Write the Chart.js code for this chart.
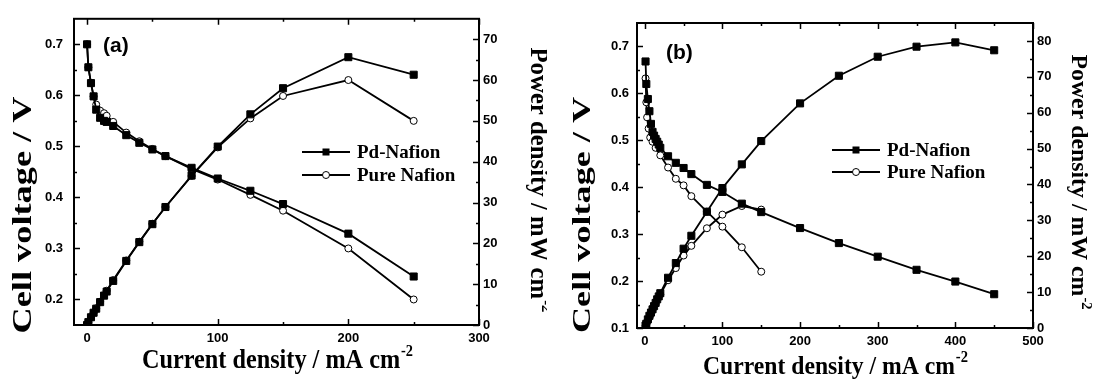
<!DOCTYPE html>
<html>
<head>
<meta charset="utf-8">
<script src="https://cdn.jsdelivr.net/npm/chart.js@4.4.1/dist/chart.umd.min.js"></script>
<style>
    html, body { margin: 0; padding: 0; background: #fff; }
    #quadro { position: relative; width: 1095px; height: 382px; }
    .painel { position: absolute; top: 0; }
    #painel-a { left: 0; }
    #painel-b { left: 547px; }
</style>
</head>
<body>
<div id="quadro">
    <div class="painel" id="painel-a"><canvas id="grafico-a" width="547" height="382"></canvas></div>
    <div class="painel" id="painel-b"><canvas id="grafico-b" width="548" height="382"></canvas></div>
</div>
<script>
// ==================== DADOS (a) ====================
const correnteA_Pd = [0, 1, 3, 5, 7, 10, 13, 15, 20, 30, 40, 50, 60, 80, 100, 125, 150, 200, 250];
const tensaoA_Pd = [0.700, 0.655, 0.624, 0.598, 0.572, 0.556, 0.550, 0.548, 0.540, 0.522, 0.507, 0.494, 0.481, 0.458, 0.437, 0.413, 0.387, 0.329, 0.245];
const potenciaA_Pd = [0.0, 0.7, 1.9, 3.0, 4.0, 5.6, 7.2, 8.2, 10.8, 15.7, 20.3, 24.7, 28.9, 36.6, 43.7, 51.6, 58.0, 65.6, 61.3];

const correnteA_Pura = [0, 1, 3, 5, 7, 10, 13, 15, 20, 30, 40, 50, 60, 80, 100, 125, 150, 200, 250];
const tensaoA_Pura = [0.700, 0.655, 0.624, 0.598, 0.582, 0.570, 0.565, 0.560, 0.548, 0.527, 0.510, 0.495, 0.481, 0.456, 0.435, 0.405, 0.374, 0.300, 0.200];
const potenciaA_Pura = [0.0, 0.7, 1.9, 3.0, 4.1, 5.7, 7.3, 8.4, 11.0, 15.8, 20.4, 24.8, 28.9, 36.5, 43.5, 50.6, 56.1, 60.0, 50.0];

// ==================== DADOS (b) ====================
const correnteB_Pd = [1, 2, 4, 6, 8, 10, 12, 14, 16, 18, 20, 30, 40, 50, 60, 80, 100, 125, 150, 200, 250, 300, 350, 400, 450];
const tensaoB_Pd = [0.668, 0.620, 0.588, 0.562, 0.535, 0.518, 0.510, 0.503, 0.497, 0.491, 0.484, 0.466, 0.452, 0.441, 0.428, 0.405, 0.390, 0.365, 0.347, 0.313, 0.281, 0.252, 0.224, 0.199, 0.172];
const potenciaB_Pd = [0.7, 1.2, 2.4, 3.4, 4.3, 5.2, 6.1, 7.0, 8.0, 8.8, 9.7, 14.0, 18.1, 22.1, 25.7, 32.4, 39.0, 45.6, 52.1, 62.6, 70.3, 75.6, 78.4, 79.6, 77.4];

const correnteB_Pura = [1, 2, 3, 5, 7, 10, 14, 20, 30, 40, 50, 60, 80, 100, 125, 150];
const tensaoB_Pura = [0.632, 0.581, 0.549, 0.525, 0.506, 0.497, 0.484, 0.468, 0.442, 0.418, 0.404, 0.381, 0.348, 0.316, 0.272, 0.220];
const potenciaB_Pura = [0.6, 1.2, 1.6, 2.6, 3.5, 5.0, 6.8, 9.4, 13.3, 16.7, 20.2, 22.9, 27.8, 31.6, 34.0, 33.0];

// ==================== EIXOS ====================
const ticksX_A = [0, 100, 200, 300];
const menoresX_A = [50, 150, 250];
const ticksV_A = [0.2, 0.3, 0.4, 0.5, 0.6, 0.7];
const menoresV_A = [0.25, 0.35, 0.45, 0.55, 0.65];
const ticksP_A = [0, 10, 20, 30, 40, 50, 60, 70];
const menoresP_A = [5, 15, 25, 35, 45, 55, 65];

const ticksX_B = [0, 100, 200, 300, 400, 500];
const menoresX_B = [50, 150, 250, 350, 450];
const ticksV_B = [0.1, 0.2, 0.3, 0.4, 0.5, 0.6, 0.7];
const menoresV_B = [0.15, 0.25, 0.35, 0.45, 0.55, 0.65];
const ticksP_B = [0, 10, 20, 30, 40, 50, 60, 70, 80];
const menoresP_B = [5, 15, 25, 35, 45, 55, 65, 75];

const rotulosLegenda = ['Pd-Nafion', 'Pure Nafion'];

// ==================== AUXILIARES ====================
function pontos(xs, ys) {
    return xs.map((x, i) => ({ x: x, y: ys[i] }));
}

function fonteSerif(tam) {
    return 'bold ' + tam + 'px "Liberation Serif", "Times New Roman", serif';
}

function escreverTexto(ctx, t) {
    ctx.save();
    ctx.font = fonteSerif(t.tamanho);
    const w1 = ctx.measureText(t.texto).width;
    const supTam = Math.round(t.tamanho * 0.6);
    let w2 = 0;
    if (t.sup) {
        ctx.font = fonteSerif(supTam);
        w2 = ctx.measureText(t.sup).width + 1;
    }
    const total = w1 + w2;
    const esc = t.comprimento ? t.comprimento / total : 1;
    ctx.translate(t.x, t.y);
    ctx.rotate(t.rot || 0);
    ctx.scale(esc, 1);
    ctx.fillStyle = '#000';
    ctx.textAlign = 'left';
    ctx.textBaseline = 'alphabetic';
    ctx.font = fonteSerif(t.tamanho);
    ctx.fillText(t.texto, -total / 2, 0);
    if (t.sup) {
        ctx.font = fonteSerif(supTam);
        ctx.fillText(t.sup, -total / 2 + w1 + 1, -t.tamanho * 0.45);
    }
    ctx.restore();
}

function desenharMarcador(ctx, tipo, x, y) {
    ctx.beginPath();
    if (tipo === 'quadrado') {
        ctx.fillStyle = '#000';
        ctx.fillRect(x - 3.5, y - 3.5, 7, 7);
    } else {
        ctx.arc(x, y, 3.5, 0, Math.PI * 2);
        ctx.fillStyle = '#fff';
        ctx.fill();
        ctx.lineWidth = 1;
        ctx.strokeStyle = '#000';
        ctx.stroke();
    }
}

// moldura, tracos internos, titulos e legenda
const decoracao = {
    id: 'decoracao',
    afterDraw(chart, args, o) {
        const { ctx, chartArea: a, scales } = chart;
        ctx.save();
        ctx.strokeStyle = '#000';
        ctx.lineWidth = 1.5;

        const tracoV = (escala, valores, comp) => {
            valores.forEach(v => {
                const px = Math.round(escala.getPixelForValue(v)) + 0.5;
                ctx.beginPath();
                ctx.moveTo(px, a.bottom); ctx.lineTo(px, a.bottom - comp);
                ctx.moveTo(px, a.top); ctx.lineTo(px, a.top + comp);
                ctx.stroke();
            });
        };
        const tracoH = (escala, valores, comp, lado) => {
            valores.forEach(v => {
                const py = Math.round(escala.getPixelForValue(v)) + 0.5;
                ctx.beginPath();
                if (lado === 'esq') { ctx.moveTo(a.left, py); ctx.lineTo(a.left + comp, py); }
                else { ctx.moveTo(a.right, py); ctx.lineTo(a.right - comp, py); }
                ctx.stroke();
            });
        };

        tracoV(scales.x, scales.x.ticks.map(t => t.value), 6);
        tracoV(scales.x, o.menoresX, 3);
        tracoH(scales.y, scales.y.ticks.map(t => t.value), 6, 'esq');
        tracoH(scales.y, o.menoresV, 3, 'esq');
        tracoH(scales.y1, scales.y1.ticks.map(t => t.value), 6, 'dir');
        tracoH(scales.y1, o.menoresP, 3, 'dir');

        ctx.lineWidth = 2;
        ctx.strokeRect(a.left, a.top, a.right - a.left, a.bottom - a.top);

        // rotulo do painel
        ctx.fillStyle = '#000';
        ctx.font = 'bold 21px "Liberation Sans", Arial, sans-serif';
        ctx.textAlign = 'left';
        ctx.textBaseline = 'alphabetic';
        ctx.fillText(o.painel.texto, o.painel.x, o.painel.y);

        // titulos dos eixos
        o.titulos.forEach(t => escreverTexto(ctx, t));

        // legenda
        const lg = o.legenda;
        ['quadrado', 'circulo'].forEach((tipo, i) => {
            const y = lg.y + i * lg.passo;
            ctx.beginPath();
            ctx.strokeStyle = '#000';
            ctx.lineWidth = 1.8;
            ctx.moveTo(lg.x, y); ctx.lineTo(lg.x + lg.largura, y);
            ctx.stroke();
            desenharMarcador(ctx, tipo, lg.x + lg.largura / 2, y);
            ctx.fillStyle = '#000';
            ctx.font = fonteSerif(19);
            ctx.textBaseline = 'middle';
            ctx.textAlign = 'left';
            ctx.fillText(rotulosLegenda[i], lg.x + lg.largura + 7, y + 1);
        });
        ctx.restore();
    }
};

function serie(dados, eixo, tipo) {
    const quadrado = tipo === 'quadrado';
    return {
        data: dados,
        yAxisID: eixo,
        borderColor: '#000',
        borderWidth: 1.8,
        pointStyle: quadrado ? 'rect' : 'circle',
        pointRadius: quadrado ? 5 : 3.5,
        pointHoverRadius: quadrado ? 5 : 3.5,
        pointBackgroundColor: quadrado ? '#000' : '#fff',
        pointBorderColor: '#000',
        pointBorderWidth: 1,
        tension: 0,
        fill: false
    };
}

function montarGrafico(id, c) {
    const fonteTick = { family: '"Liberation Sans", Arial, sans-serif', weight: 'bold', size: c.tamTick };
    return new Chart(document.getElementById(id), {
        type: 'line',
        data: {
            datasets: [
                serie(pontos(c.correntePd, c.tensaoPd), 'y', 'quadrado'),
                serie(pontos(c.correntePd, c.potenciaPd), 'y1', 'quadrado'),
                serie(pontos(c.correntePura, c.tensaoPura), 'y', 'circulo'),
                serie(pontos(c.correntePura, c.potenciaPura), 'y1', 'circulo')
            ]
        },
        options: {
            responsive: false,
            animation: false,
            events: [],
            layout: { padding: { top: c.topo, left: 0, right: 0, bottom: 0 } },
            plugins: {
                legend: { display: false },
                tooltip: { enabled: false },
                decoracao: c.decoracao
            },
            scales: {
                x: {
                    type: 'linear',
                    position: 'bottom',
                    min: c.xMin, max: c.xMax,
                    grid: { display: false, drawTicks: false },
                    border: { display: false },
                    afterBuildTicks: s => { s.ticks = c.ticksX.map(v => ({ value: v })); },
                    afterFit: s => { s.height = c.alturaX; },
                    ticks: { color: '#000', font: fonteTick, padding: 6, maxRotation: 0 }
                },
                y: {
                    type: 'linear',
                    position: 'left',
                    min: c.vMin, max: c.vMax,
                    grid: { display: false, drawTicks: false },
                    border: { display: false },
                    afterBuildTicks: s => { s.ticks = c.ticksV.map(v => ({ value: v })); },
                    afterFit: s => { s.width = c.larguraEsq; },
                    ticks: { color: '#000', font: fonteTick, padding: c.padEsq, callback: v => v.toFixed(1) }
                },
                y1: {
                    type: 'linear',
                    position: 'right',
                    min: 0, max: c.pMax,
                    grid: { display: false, drawTicks: false },
                    border: { display: false },
                    afterBuildTicks: s => { s.ticks = c.ticksP.map(v => ({ value: v })); },
                    afterFit: s => { s.width = c.larguraDir; },
                    ticks: { color: '#000', font: fonteTick, padding: 4 }
                }
            }
        },
        plugins: [decoracao]
    });
}

Chart.register(decoracao);

montarGrafico('grafico-a', {
    correntePd: correnteA_Pd, tensaoPd: tensaoA_Pd, potenciaPd: potenciaA_Pd,
    correntePura: correnteA_Pura, tensaoPura: tensaoA_Pura, potenciaPura: potenciaA_Pura,
    xMin: -10, xMax: 300, vMin: 0.15, vMax: 0.75, pMax: 75,
    ticksX: ticksX_A, ticksV: ticksV_A, ticksP: ticksP_A,
    topo: 15, alturaX: 57, larguraEsq: 74, larguraDir: 68, padEsq: 11, tamTick: 13,
    decoracao: {
        menoresX: menoresX_A, menoresV: menoresV_A, menoresP: menoresP_A,
        painel: { texto: '(a)', x: 103, y: 52 },
        titulos: [
            { texto: 'Current density / mA cm', sup: '-2', x: 277.5, y: 368, tamanho: 27, comprimento: 271 },
            { texto: 'Cell voltage / V', x: 31, y: 215, rot: -Math.PI / 2, tamanho: 27, comprimento: 237 },
            { texto: 'Power density / mW cm', sup: '-2', x: 531, y: 180, rot: Math.PI / 2, tamanho: 25, comprimento: 265 }
        ],
        legenda: { x: 302, y: 152, passo: 23, largura: 48 }
    }
});

montarGrafico('grafico-b', {
    correntePd: correnteB_Pd, tensaoPd: tensaoB_Pd, potenciaPd: potenciaB_Pd,
    correntePura: correnteB_Pura, tensaoPura: tensaoB_Pura, potenciaPura: potenciaB_Pura,
    xMin: -10, xMax: 500, vMin: 0.1, vMax: 0.75, pMax: 85,
    ticksX: ticksX_B, ticksV: ticksV_B, ticksP: ticksP_B,
    topo: 23, alturaX: 54, larguraEsq: 90, larguraDir: 62, padEsq: 8, tamTick: 13,
    decoracao: {
        menoresX: menoresX_B, menoresV: menoresV_B, menoresP: menoresP_B,
        painel: { texto: '(b)', x: 119, y: 59 },
        titulos: [
            { texto: 'Current density / mA cm', sup: '-2', x: 288.5, y: 374, tamanho: 26, comprimento: 265 },
            { texto: 'Cell voltage / V', x: 43, y: 215, rot: -Math.PI / 2, tamanho: 26, comprimento: 236 },
            { texto: 'Power density / mW cm', sup: '-2', x: 525, y: 182, rot: Math.PI / 2, tamanho: 23, comprimento: 255 }
        ],
        legenda: { x: 285, y: 150, passo: 22, largura: 48 }
    }
});
</script>
</body>
</html>
